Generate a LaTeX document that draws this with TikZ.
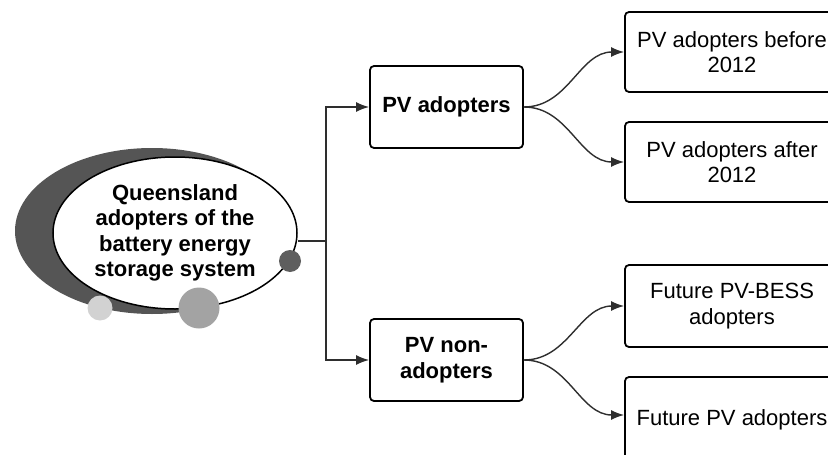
\documentclass[tikz,border=0pt]{standalone}
\usepackage{fontspec}
\setmainfont{Liberation Sans}
\usetikzlibrary{shapes.geometric,arrows.meta,calc}
\definecolor{crescent}{HTML}{555555}
\definecolor{dotdark}{HTML}{5E5E5E}
\definecolor{dotmid}{HTML}{A3A3A3}
\definecolor{dotlight}{HTML}{D2D2D2}
\definecolor{linecol}{HTML}{2E2E2E}
\begin{document}
\begin{tikzpicture}[x=1pt,y=-1pt,
  txt/.style={font=\fontsize{22}{25.5}\selectfont, align=center},
  midbox/.style={txt, draw=black, line width=1.8pt, rounded corners=4pt, fill=white,
    minimum width=153pt, minimum height=82pt, inner sep=0pt, font=\fontsize{22}{25.5}\selectfont\bfseries},
  leafbox/.style={txt, draw=black, line width=1.8pt, rounded corners=4pt, fill=white,
    minimum width=214pt, minimum height=80pt, inner sep=0pt},
  conn/.style={draw=linecol, line width=1.4pt},
  arr/.style={conn, -{Latex[length=13pt,width=10pt]}},
  dot/.style={circle, inner sep=0pt}
]
\useasboundingbox (0,0) rectangle (828,455);
\clip (0,0) rectangle (828,455);

% crescent background
\fill[crescent] (152,231) ellipse [x radius=137, y radius=83];
% main ellipse
\node[ellipse, draw=black, line width=1.5pt, fill=white, minimum width=244pt, minimum height=152pt, inner sep=0pt,
  txt, font=\fontsize{22}{25.5}\selectfont\bfseries] (ell) at (175,233)
  {Queensland\\adopters of the\\battery energy\\storage system};
% decorative dots
\node[dot, fill=dotlight, minimum size=25pt] (d1) at (100,308) {};
\node[dot, fill=dotmid, minimum size=41pt] (d2) at (199,308) {};
\node[dot, fill=dotdark, minimum size=22pt] (d3) at (290,261) {};

% middle boxes
\node[midbox] (pva) at (446.5,107) {PV adopters};
\node[midbox] (pvn) at (446.5,360) {PV non-\\adopters};

% leaf boxes
\node[leafbox] (b1) at (732,52) {PV adopters before\\2012};
\node[leafbox] (b2) at (732,162) {PV adopters after\\2012};
\node[leafbox, minimum height=82pt] (b3) at (732,306) {Future PV-BESS\\adopters};
\node[leafbox, minimum height=86pt] (b4) at (732,420) {Future PV adopters};
\coordinate (b4in) at ($(b4.west)+(0,-5)$);

% connectors
\coordinate (j) at (326,241);
\draw[conn] (ell.east |- j) -- (j);
\draw[arr] (j) |- (pva.west);
\draw[arr] (j) |- (pvn.west);

\draw[arr] (pva.east) to[out=0,in=180] (b1.west);
\draw[arr] (pva.east) to[out=0,in=180] (b2.west);
\draw[arr] (pvn.east) to[out=0,in=180] (b3.west);
\draw[arr] (pvn.east) to[out=0,in=180] (b4in);
\end{tikzpicture}
\end{document}
